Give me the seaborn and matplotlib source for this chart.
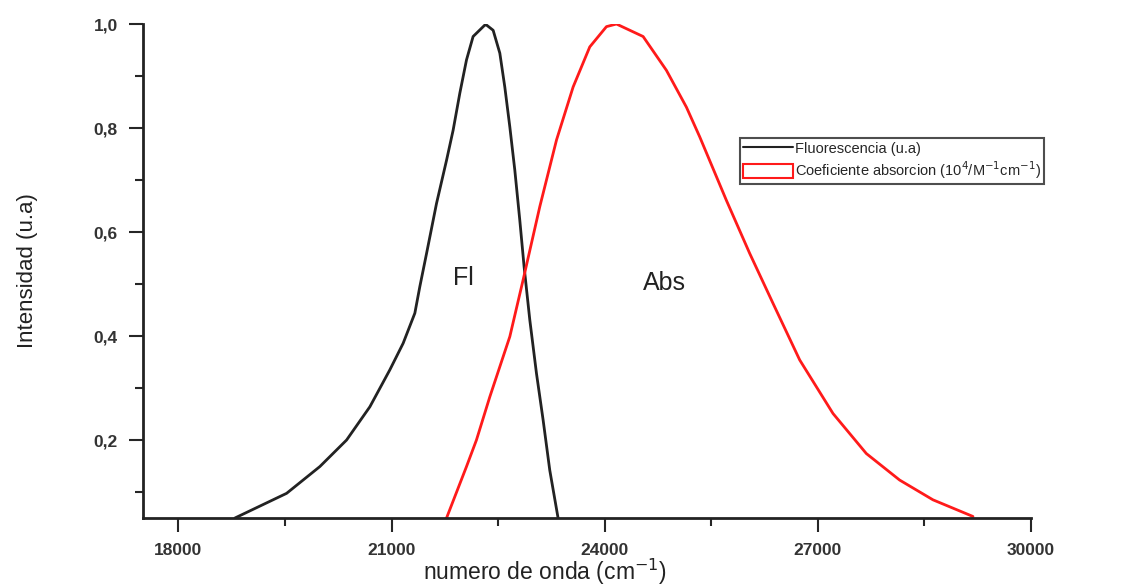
import matplotlib
matplotlib.use("Agg")
import matplotlib.pyplot as plt
import pandas as pd
import seaborn as sns
from matplotlib.patches import Patch
from matplotlib.lines import Line2D
from matplotlib.ticker import MultipleLocator, FuncFormatter

# fluorescence spectrum
fl_x = [18794, 19522, 19990, 20366, 20694, 20975, 21162, 21327, 21397, 21492,
        21632, 21773, 21866, 21960, 22054, 22147, 22312, 22336, 22429, 22523,
        22593, 22664, 22734, 22804, 22865, 22945, 23039, 23132, 23226, 23343]
fl_y = [0.05, 0.0975, 0.149, 0.200, 0.264, 0.335, 0.386, 0.444, 0.495, 0.559,
        0.655, 0.738, 0.796, 0.867, 0.931, 0.976, 0.998, 0.998, 0.988, 0.944,
        0.879, 0.802, 0.719, 0.623, 0.533, 0.431, 0.328, 0.239, 0.142, 0.05]

# absorption coefficient
abs_x = [21773, 22054, 22194, 22382, 22664, 22851, 23086, 23321, 23555, 23789,
         24024, 24165, 24540, 24868, 25150, 25337, 25712, 26040, 26368, 26744,
         27213, 27682, 28151, 28620, 29183]
abs_y = [0.05, 0.149, 0.200, 0.283, 0.399, 0.508, 0.649, 0.777, 0.879, 0.956,
         0.995, 1.0, 0.976, 0.911, 0.84, 0.783, 0.661, 0.559, 0.463, 0.354,
         0.251, 0.174, 0.123, 0.085, 0.053]

x_ticks = [18000, 21000, 24000, 27000, 30000]
y_ticks = [0.2, 0.4, 0.6, 0.8, 1.0]

sns.set_style("ticks")
plt.rcParams['font.family'] = ['Liberation Sans', 'DejaVu Sans']

fl = pd.DataFrame({'x': fl_x, 'y': fl_y})
ab = pd.DataFrame({'x': abs_x, 'y': abs_y})

fig = plt.figure(figsize=(11.42, 5.86), dpi=100)
ax = fig.add_axes([0.1252, 0.116, 0.7776, 0.843])

sns.lineplot(data=fl, x='x', y='y', color='#222222', lw=2, ax=ax, sort=False)
sns.lineplot(data=ab, x='x', y='y', color='#ff1a1a', lw=2, ax=ax, sort=False)

ax.set_xlim(17500, 30000)
ax.set_ylim(0.05, 1.0)
ax.set_xticks(x_ticks)
ax.set_yticks(y_ticks)
ax.xaxis.set_minor_locator(MultipleLocator(1500))
ax.yaxis.set_minor_locator(MultipleLocator(0.1))
ax.yaxis.set_major_formatter(FuncFormatter(lambda v, p: f"{v:.1f}".replace('.', ',')))
ax.tick_params(which='major', length=10, width=1.5, direction='out', labelsize=12.5, pad=8)
ax.tick_params(which='minor', length=6, width=1.5, direction='out')
for lab in ax.get_xticklabels() + ax.get_yticklabels():
    lab.set_fontweight('bold')
    lab.set_color('#333333')

sns.despine(ax=ax)
for s in ['left', 'bottom']:
    ax.spines[s].set_linewidth(2)
    ax.spines[s].set_color('#222222')

ax.set_xlabel('numero de onda (cm$^{-1}$)', fontsize=16.5, color='#222222')
ax.xaxis.set_label_coords(0.453, -0.078)
ax.set_ylabel('Intensidad (u.a)', fontsize=16, labelpad=40, color='#222222')

ax.text(22007, 0.511, 'Fl', fontsize=18, color='#222222', ha='center', va='center')
ax.text(24845, 0.502, 'Abs', fontsize=18, color='#222222', ha='center', va='center')

handles = [Line2D([0], [0], color='#222222', lw=1.5),
           Patch(facecolor='white', edgecolor='#ff1a1a', lw=1.5)]
labels = ['Fluorescencia (u.a)', 'Coeficiente absorcion (10$^4$/M$^{-1}$cm$^{-1}$)']
leg = ax.legend(handles, labels, loc='upper left', bbox_to_anchor=(0.648, 0.7645),
                bbox_transform=fig.transFigure,
                borderaxespad=0, fontsize=10.5, frameon=True, fancybox=False,
                handlelength=3.4, handleheight=1.1, handletextpad=0.2,
                borderpad=0.2, labelspacing=0.25)
leg.get_frame().set_edgecolor('#222222')
leg.get_frame().set_linewidth(1.5)

fig.savefig('out.png', dpi=100)
